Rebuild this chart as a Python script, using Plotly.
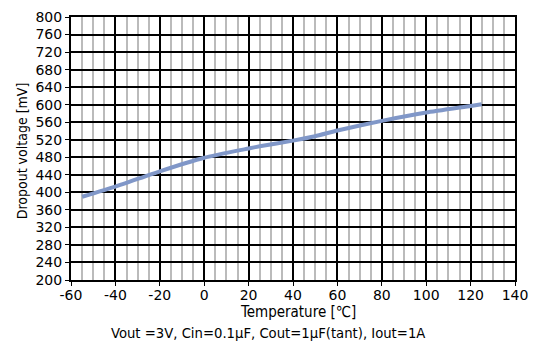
import plotly.graph_objects as go

temps = [-55, -40, -20, 0, 20, 25, 40, 50, 60, 80, 100, 120, 125]
dropout_mv = [390, 413, 448, 479, 500, 505, 518, 528, 541, 563, 582, 597, 601]

x_ticks = list(range(-60, 141, 20))
x_tick_labels = [str(v) for v in x_ticks]
y_ticks = list(range(200, 801, 40))
y_tick_labels = [str(v) for v in y_ticks]

FONT = "DejaVu Sans"
TITLE_FONT = "DejaVu Sans Condensed, DejaVu Sans"

fig = go.Figure()
fig.add_trace(go.Scatter(x=temps, y=dropout_mv, mode="lines",
                         line=dict(color="#8097C8", width=4, smoothing=0.5), line_shape="spline",
                         showlegend=False))

fig.update_layout(
    width=534, height=349,
    margin=dict(l=71, r=19, t=17, b=69, autoexpand=False),
    paper_bgcolor="white", plot_bgcolor="white",
    font=dict(family=FONT, size=14, color="black"),
)
fig.update_xaxes(
    range=[-60, 140], tickvals=x_ticks, ticktext=x_tick_labels,
    ticks="outside", ticklen=4, tickcolor="black", automargin=False,
    ticklabelstandoff=-3,
    showgrid=True, gridcolor="black", gridwidth=1.5,
    minor=dict(dtick=5, tick0=0, showgrid=True, gridcolor="#BBBBBB", gridwidth=1.5),
    showline=True, linecolor="black", linewidth=2, mirror=True, zeroline=False,
    tickfont=dict(size=14),
)
fig.update_yaxes(
    range=[200, 800], tickvals=y_ticks, ticktext=y_tick_labels,
    ticks="outside", ticklen=4, tickcolor="black", automargin=False,
    showgrid=True, gridcolor="black", gridwidth=1.5,
    showline=True, linecolor="black", linewidth=2, mirror=True, zeroline=False,
    tickfont=dict(size=14),
)
fig.add_annotation(text="Temperature [℃]", xref="paper", yref="paper", x=0.511, y=-0.122,
                   yanchor="middle", showarrow=False, font=dict(size=15, family=TITLE_FONT))
fig.add_annotation(text="Vout =3V, Cin=0.1μF, Cout=1μF(tant), Iout=1A", xref="paper", yref="paper",
                   x=0.444, y=-0.198, yanchor="middle", showarrow=False,
                   font=dict(size=14.7, family=TITLE_FONT))
fig.add_annotation(text="Dropout voltage [mV]", xref="paper", yref="paper", x=-0.11, y=0.49,
                   textangle=-90, xanchor="center", yanchor="middle", showarrow=False,
                   font=dict(size=14, family=TITLE_FONT))

fig.write_html("out.html", config={"displayModeBar": False},
               post_script="document.body.style.margin='0';document.body.style.padding='0';")
